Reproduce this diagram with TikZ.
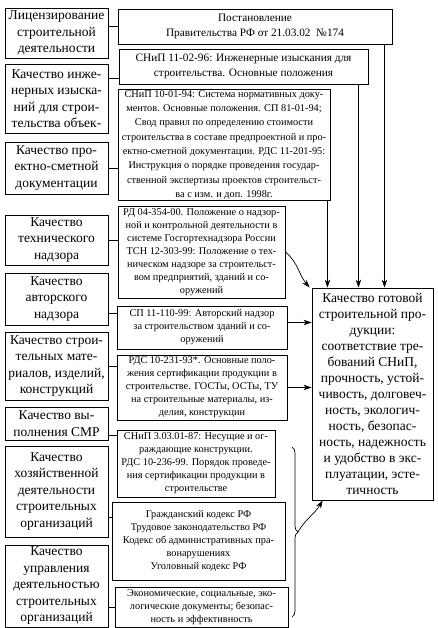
\documentclass[tikz,border=0pt]{standalone}
\usepackage{fontspec}
\setmainfont{Liberation Serif}
\usetikzlibrary{arrows.meta,decorations.pathreplacing}

\tikzset{
  lbox/.style={draw, line width=0.9pt, align=center, inner sep=1pt,
    minimum width=103pt, font=\fontsize{13.5}{16.5}\selectfont},
  dbox/.style={draw, line width=0.9pt, align=center, inner sep=1pt,
    font=\fontsize{10.3}{13}\selectfont},
  bigdbox/.style={dbox, font=\fontsize{11.3}{15.5}\selectfont},
  lnk/.style={line width=0.7pt},
  arr/.style={line width=0.7pt, -{Stealth[length=8pt,width=5.5pt]}},
}

\begin{document}
\begin{tikzpicture}[x=1pt,y=-1pt]
		%%%%% START %%%%%
		\useasboundingbox (0,0) rectangle (438,628);
		
		% left column
		\node[lbox, minimum height=50pt] (lic) at (56.5,33) {Лицензирование\\строительной\\деятельности};
		\node[lbox, minimum height=69pt] (izy) at (56.5,98.5) {Качество инже-\\нерных изыска-\\ний для строи-\\тельства объек-};
		\node[lbox, minimum height=52pt] (psd) at (56.5,168) {Качество про-\\ектно-сметной\\документации};
		\node[lbox, minimum height=50pt] (teh) at (56.5,240) {Качество\\технического\\надзора};
		\node[lbox, minimum height=52pt] (avt) at (56.5,299) {Качество\\авторского\\надзора};
		\node[lbox, minimum height=68pt] (mat) at (56.5,366) {Качество строи-\\тельных мате-\\риалов, изделий,\\конструкций};
		\node[lbox, minimum height=33pt] (smr) at (56.5,423.5) {Качество вы-\\полнения СМР};
		\node[lbox, minimum height=91pt] (hoz) at (56.5,491.5) {Качество\\хозяйственной\\деятельности\\строительных\\организаций};
		\node[lbox, minimum height=82pt] (upr) at (56.5,586) {Качество\\управления\\деятельностью\\строительных\\организаций};
		
		% documents
		\node[bigdbox, minimum width=274pt, minimum height=35pt] (post) at (255,26.5) {Постановление\\Правительства РФ от 21.03.02~~№174};
		\node[bigdbox, minimum width=249pt, minimum height=35pt] (snip1) at (243.5,66.5) {СНиП 11-02-96: Инженерные изыскания для\\строительства. Основные положения};
		\node[dbox, minimum width=212pt, minimum height=106pt, font=\fontsize{10.3}{14.3}\selectfont] (snip2) at (224,145) {СНиП 10-01-94: Система нормативных доку-\\ментов. Основные положения. СП 81-01-94;\\Свод правил по определению стоимости\\строительства в составе предпроектной и про-\\ектно-сметной документации. РДС 11-201-95:\\Инструкция о порядке проведения государ-\\ственной экспертизы проектов строительст-\\ва с изм. и доп. 1998г.};
		\node[dbox, minimum width=167pt, minimum height=92pt] (rd) at (201.5,252) {РД 04-354-00. Положение о надзор-\\ной и контрольной деятельности в\\системе Госгортехнадзора России\\ТСН 12-303-99: Положение о тех-\\ническом надзоре за строительст-\\вом предприятий, зданий и со-\\оружений};
		\node[dbox, minimum width=170pt, minimum height=43pt] (sp) at (202,327.5) {СП 11-110-99: Авторский надзор\\за строительством зданий и со-\\оружений};
		\node[dbox, minimum width=170pt, minimum height=65pt] (rds) at (202,387.5) {РДС 10-231-93*. Основные поло-\\жения сертификации продукции в\\строительстве. ГОСТы, ОСТы, ТУ\\на строительные материалы, из-\\делия, конструкции};
		\node[dbox, minimum width=158pt, minimum height=67pt] (snip3) at (196,463.5) {СНиП 3.03.01-87: Несущие и ог-\\раждающие конструкции.\\РДС 10-236-99. Порядок проведе-\\ния сертификации продукции в\\строительстве};
		\node[dbox, minimum width=173pt, minimum height=78pt] (kod) at (198.5,541) {Гражданский кодекс РФ\\Трудовое законодательство РФ\\Кодекс об административных пра-\\вонарушениях\\Уголовный кодекс РФ};
		\node[dbox, minimum width=173pt, minimum height=40pt] (eko) at (201.5,607) {Экономические, социальные, эко-\\логические документы; безопас-\\ность и эффективность};
		
		% result
		\node[lbox, minimum width=121pt, minimum height=212pt, font=\fontsize{13.5}{16}\selectfont] (res) at (372.5,394) {Качество готовой\\строительной про-\\дукции:\\соответствие тре-\\бований СНиП,\\прочность, устой-\\чивость, долговеч-\\ность, экологич-\\ность, безопас-\\ность, надежность\\и удобство в экс-\\плуатации, эсте-\\тичность};
		
		% links
		\coordinate (k2) at (0,78);
		\coordinate (k5) at (0,313);
		\coordinate (k7) at (0,435);
		\coordinate (k8) at (0,517);
		\draw[lnk] (post.west) -- (post.west -| lic.east);
		\draw[lnk] (izy.east |- k2) -- (snip1.west |- k2);
		\draw[lnk] (psd.east) -- (psd.east -| snip2.west);
		\draw[lnk] (teh.east) -- (teh.east -| rd.west);
		\draw[lnk] (avt.east |- k5) -- (sp.west |- k5);
		\draw[lnk] (mat.east) -- (mat.east -| rds.west);
		\draw[lnk] (smr.east |- k7) -- (snip3.west |- k7);
		\draw[lnk] (hoz.east |- k8) -- (kod.west |- k8);
		\draw[lnk] (eko.west) -- (eko.west -| upr.east);
		
		% arrows
		\draw[arr] ([xshift=-8pt]post.south east) -- ([xshift=-8pt]post.south east |- res.north);
		\draw[arr] ([xshift=-10pt]snip1.south east) -- ([xshift=-10pt]snip1.south east |- res.north);
		\draw[arr] ([xshift=-3pt]snip2.south east) -- ([xshift=-3pt]snip2.south east |- res.north);
		\draw[arr] (rd.east) to[out=-40, in=130] ([xshift=-2pt]res.north west);
		\draw[arr] ([yshift=5pt]sp.east) -- ([yshift=5pt]sp.east -| res.west);
		\draw[arr] (rds.east) -- (rds.east -| res.west);
		
		\coordinate (bt) at (292,447);
		\coordinate (bb) at (292,617);
		\coordinate (bm) at (298,532);
		\draw[lnk, decorate, decoration={brace, amplitude=6pt}] (bt) -- (bb);
		\draw[arr] (bm) to[out=60, in=-120] ([xshift=11pt]res.south west);
		
		%%%%% END %%%%%
	\end{tikzpicture}
\end{document}
